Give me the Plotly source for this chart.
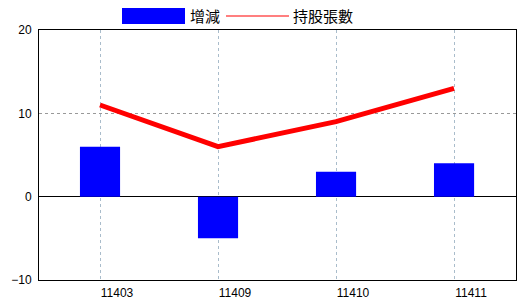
import plotly.graph_objects as go

categories = ["11403", "11409", "11410", "11411"]
change_values = [6, -5, 3, 4]
holding_values = [11, 6, 9, 13]
y_ticks = [-10, 0, 10, 20]
legend_names = ["增減", "持股張數"]

fig = go.Figure()
fig.add_trace(go.Bar(x=categories, y=change_values, name=legend_names[0],
                     marker=dict(color="#0000FF", line=dict(width=0)), width=0.34))
fig.add_trace(go.Scatter(x=categories, y=holding_values, name=legend_names[1], mode="lines",
                         line=dict(color="#FF0000", width=5)))

W, H = 520, 300
L, R, T, B = 39, 4, 30, 20
PW, PH = W - L - R, H - T - B

# custom legend
fig.add_shape(type="rect", xref="paper", yref="paper",
              x0=(122 - L) / PW, x1=(185 - L) / PW,
              y0=(H - B - 24) / PH, y1=(H - B - 8) / PH,
              fillcolor="#0000FF", line=dict(width=0))
fig.add_shape(type="line", xref="paper", yref="paper",
              x0=(226 - L) / PW, x1=(289 - L) / PW,
              y0=(H - B - 16) / PH, y1=(H - B - 16) / PH,
              line=dict(color="#FF0000", width=1.2))
fig.add_annotation(xref="paper", yref="paper", x=(188 - L) / PW,
                   y=(H - B - 16) / PH, text=legend_names[0], showarrow=False,
                   xanchor="left", yanchor="middle",
                   font=dict(family="Noto Sans CJK TC", size=15, color="#000"))
fig.add_annotation(xref="paper", yref="paper", x=(291 - L) / PW,
                   y=(H - B - 16) / PH, text=legend_names[1], showarrow=False,
                   xanchor="left", yanchor="middle",
                   font=dict(family="Noto Sans CJK TC", size=15, color="#000"))

fig.update_layout(
    width=W, height=H,
    margin=dict(l=L, r=R, t=T, b=B, pad=0, autoexpand=False),
    paper_bgcolor="white", plot_bgcolor="white",
    showlegend=False,
    font=dict(family="Liberation Sans", size=12, color="#000"),
)
fig.update_xaxes(
    type="category", range=[-0.517, 3.525], automargin=False,
    showline=True, linecolor="black", linewidth=1, mirror=True,
    showgrid=True, gridcolor="#a9bccb", griddash="dot", gridwidth=1,
    ticks="", ticklabelshift=17, ticklabelstandoff=2,
    tickfont=dict(family="Liberation Sans", size=12),
)
fig.update_yaxes(
    range=[-10, 20], tickvals=y_ticks, automargin=False,
    showline=True, linecolor="black", linewidth=1, mirror=True,
    showgrid=True, gridcolor="#999999", griddash="dot", gridwidth=1,
    zeroline=True, zerolinecolor="black", zerolinewidth=1,
    ticks="", ticklabelstandoff=4,
    tickfont=dict(family="Liberation Sans", size=12),
)

fig.write_html("out.html")
